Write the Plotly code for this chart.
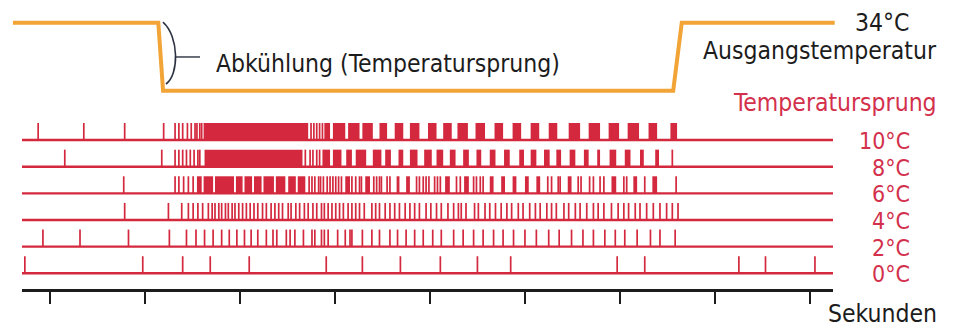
import plotly.graph_objects as go

# ---------------- data (time in seconds, one tick = 1 s) ----------------
TICK_SECONDS = [0, 1, 2, 3, 4, 5, 6, 7, 8]
RECORDING = [-0.29, 8.24]                      # start / end of each trace

# bath temperature (orange line)
TEMP_TIME = [-0.39, 1.14, 1.19, 6.56, 6.65, 8.26]
TEMP_VALUE = [34, 34, 24, 24, 34, 34]

# temperature jump of each raster row (°C)
JUMPS = [0, 2, 4, 6, 8, 10]
JUMP_LABELS = ["0°C", "2°C", "4°C", "6°C", "8°C", "10°C"]

# single action potentials (s)
SPIKES_0 = [-0.26, 0.98, 1.40, 1.69, 2.10, 2.91, 3.29, 3.69, 4.11, 4.50, 4.85,
            5.97, 6.26, 7.25, 7.53, 8.05]
SPIKES_2 = [-0.07, 0.32, 0.83, 1.26, 1.44, 1.54, 1.63, 1.72, 1.81, 1.89, 1.97,
            2.05, 2.12, 2.19, 2.28, 2.35, 2.39, 2.49, 2.53, 2.58, 2.67, 2.76,
            2.79, 2.86, 2.89, 2.93, 3.03, 3.11, 3.16, 3.18, 3.29, 3.39, 3.47,
            3.58, 3.66, 3.75, 3.84, 3.93, 4.03, 4.12, 4.25, 4.35, 4.46, 4.56,
            4.67, 4.77, 4.88, 5.00, 5.12, 5.25, 5.36, 5.49, 5.61, 5.72, 5.84,
            5.95, 6.05, 6.18, 6.32, 6.42, 6.58]
SPIKES_4 = [0.79, 1.25, 1.39, 1.46, 1.51, 1.56, 1.61, 1.67, 1.71, 1.74, 1.78,
            1.81, 1.85, 1.88, 1.92, 1.95, 1.99, 2.03, 2.07, 2.11, 2.15, 2.19,
            2.24, 2.28, 2.33, 2.37, 2.41, 2.45, 2.51, 2.54, 2.59, 2.63, 2.68,
            2.72, 2.77, 2.81, 2.86, 2.89, 2.93, 2.97, 3.01, 3.05, 3.09, 3.14,
            3.18, 3.22, 3.26, 3.31, 3.39, 3.43, 3.47, 3.53, 3.58, 3.63, 3.68,
            3.74, 3.79, 3.84, 3.89, 3.96, 4.01, 4.07, 4.12, 4.19, 4.25, 4.30,
            4.33, 4.38, 4.47, 4.51, 4.58, 4.63, 4.69, 4.75, 4.81, 4.86, 4.93,
            4.98, 5.05, 5.11, 5.16, 5.23, 5.28, 5.33, 5.41, 5.46, 5.53, 5.58,
            5.65, 5.72, 5.77, 5.83, 5.91, 5.98, 6.04, 6.09, 6.16, 6.21, 6.28,
            6.35, 6.42, 6.49, 6.55, 6.61]
SPIKES_6 = [0.78, 1.32, 1.36, 1.41, 1.46, 1.51, 2.73, 2.76, 2.79, 2.83, 2.85,
            2.88, 2.92, 2.95, 2.98, 3.01, 3.04, 3.07, 3.18, 3.22, 3.26, 3.28,
            3.41, 3.44, 3.47, 3.49, 3.55, 3.58, 3.86, 3.89, 3.93, 3.96, 3.99,
            4.05, 4.08, 4.11, 4.28, 4.32, 4.46, 4.49, 4.53, 4.56, 5.24, 5.28,
            5.35, 5.37, 5.56, 5.59, 5.68, 5.72, 5.79, 5.83, 6.04, 6.07, 6.26,
            6.59]
SPIKES_8 = [0.16, 1.18, 1.32, 1.36, 1.40, 1.44, 1.48, 1.52, 1.56, 1.58, 2.69,
            2.74, 2.77, 2.81, 2.84, 6.55]
SPIKES_10 = [-0.12, 0.36, 0.79, 1.20, 1.32, 1.36, 1.40, 1.45, 1.49, 1.53, 1.55,
             1.58, 1.60, 2.75, 2.78, 2.81, 2.84, 2.87]

# high-frequency bursts (start s, end s)
BURSTS_0 = []
BURSTS_2 = []
BURSTS_4 = []
BURSTS_6 = [(1.55, 1.60), (1.62, 1.72), (1.74, 1.94), (1.96, 2.03), (2.05, 2.13),
            (2.15, 2.23), (2.25, 2.36), (2.38, 2.48), (2.51, 2.59), (2.61, 2.69),
            (3.11, 3.16), (3.32, 3.37), (3.65, 3.68), (3.75, 3.79), (4.16, 4.21),
            (4.36, 4.41), (4.63, 4.67), (4.75, 4.79), (4.87, 4.91), (5.00, 5.04),
            (5.12, 5.16), (5.45, 5.49), (5.91, 5.96), (6.14, 6.18), (6.34, 6.39)]
BURSTS_8 = [(1.63, 2.66), (2.87, 2.95), (2.98, 3.07), (3.12, 3.18), (3.22, 3.33),
            (3.40, 3.49), (3.53, 3.59), (3.67, 3.72), (3.79, 3.87), (3.94, 4.02),
            (4.07, 4.14), (4.21, 4.27), (4.35, 4.41), (4.49, 4.54), (4.63, 4.69),
            (4.78, 4.84), (4.94, 4.99), (5.06, 5.12), (5.20, 5.26), (5.33, 5.38),
            (5.47, 5.53), (5.62, 5.67), (5.76, 5.79), (5.89, 5.96), (6.05, 6.11),
            (6.21, 6.25), (6.37, 6.41)]
BURSTS_10 = [(1.62, 2.72), (2.89, 2.95), (2.98, 3.11), (3.14, 3.26), (3.29, 3.40),
             (3.47, 3.55), (3.63, 3.72), (3.79, 3.89), (3.98, 4.07), (4.14, 4.23),
             (4.29, 4.40), (4.48, 4.58), (4.68, 4.77), (4.87, 4.96), (5.06, 5.15),
             (5.25, 5.34), (5.46, 5.58), (5.67, 5.79), (5.88, 5.99), (6.08, 6.20),
             (6.30, 6.39), (6.53, 6.60)]

SPIKES = [SPIKES_0, SPIKES_2, SPIKES_4, SPIKES_6, SPIKES_8, SPIKES_10]
BURSTS = [BURSTS_0, BURSTS_2, BURSTS_4, BURSTS_6, BURSTS_8, BURSTS_10]

# ---------------- style ----------------
W, H = 956, 328
RED = "#d3283d"
RED_TEXT = "#d3304c"
ORANGE = "#f2a437"
INK = "#1c1c1c"
FONT = "DejaVu Sans Condensed, Liberation Sans Narrow, Arial Narrow, sans-serif"
FS = 24.5
FS_ROW = 23
SPIKE_H = 1.28   # in row units (2 °C per row spacing)

fig = go.Figure()

for jump, spikes, bursts in zip(JUMPS, SPIKES, BURSTS):
    # baseline
    fig.add_trace(go.Scatter(x=RECORDING, y=[jump, jump], mode="lines",
                             line=dict(color=RED, width=2.4),
                             hoverinfo="skip", showlegend=False))
    # single spikes
    xs, ys = [], []
    for t in spikes:
        xs += [t, t, None]
        ys += [jump, jump + SPIKE_H, None]
    fig.add_trace(go.Scatter(x=xs, y=ys, mode="lines",
                             line=dict(color=RED, width=1.7),
                             hoverinfo="skip", showlegend=False))
    # bursts
    if bursts:
        fig.add_trace(go.Bar(orientation="h",
                             y=[jump + SPIKE_H / 2] * len(bursts),
                             base=[b[0] for b in bursts],
                             x=[b[1] - b[0] for b in bursts],
                             width=SPIKE_H, marker=dict(color=RED, line=dict(width=0)),
                             hoverinfo="skip", showlegend=False))

# temperature step
fig.add_trace(go.Scatter(x=TEMP_TIME, y=TEMP_VALUE, mode="lines",
                         line=dict(color=ORANGE, width=4),
                         xaxis="x2", yaxis="y2", hoverinfo="skip", showlegend=False))

# bracket marking the cooling step
fig.add_shape(type="path", xref="x2", yref="y2",
              path="M1.189,34.1 C1.36,32.0 1.36,26.3 1.221,24.99",
              line=dict(color="#2b3140", width=1.6))
fig.add_shape(type="line", xref="x2", yref="y2", x0=1.32, x1=1.579, y0=28.96, y1=28.96,
              line=dict(color="#2b3140", width=1.4))

ann = []
for jump, lab in zip(JUMPS, JUMP_LABELS):
    ann.append(dict(text=lab, x=912 / W, xref="paper", y=jump, yref="y",
                    xanchor="right", yanchor="middle", yshift=-1, showarrow=False,
                    font=dict(family=FONT, size=FS_ROW, color=RED_TEXT)))
ann += [
    dict(text="Temperatursprung", x=939 / W, y=1 - 103 / H, xanchor="right",
         font=dict(family=FONT, size=FS, color=RED_TEXT)),
    dict(text="Ausgangstemperatur", x=939 / W, y=1 - 50 / H, xanchor="right",
         font=dict(family=FONT, size=FS, color=INK)),
    dict(text="34°C", x=911 / W, y=1 - 23 / H, xanchor="right",
         font=dict(family=FONT, size=FS, color=INK)),
    dict(text="Abkühlung (Temperatursprung)", x=214 / W, y=1 - 63 / H, xanchor="left",
         font=dict(family=FONT, size=FS, color=INK)),
    dict(text="Sekunden", x=939 / W, y=1 - 313 / H, xanchor="right",
         font=dict(family=FONT, size=FS, color=INK)),
]
for a in ann[len(JUMPS):]:
    a.update(xref="paper", yref="paper", yanchor="middle", showarrow=False)

fig.update_layout(
    width=W, height=H, autosize=False,
    margin=dict(l=0, r=0, t=0, b=0),
    paper_bgcolor="white", plot_bgcolor="rgba(0,0,0,0)",
    barmode="overlay", showlegend=False,
    xaxis=dict(domain=[22 / W, 833 / W], range=RECORDING, anchor="free",
               position=(H - 290) / H, showline=True, linecolor=INK, linewidth=3,
               ticks="outside", ticklen=12, tickwidth=1.5, tickcolor=INK,
               tickvals=TICK_SECONDS, showticklabels=False, showgrid=False,
               zeroline=False, fixedrange=True),
    yaxis=dict(domain=[0, 1], range=[-4.105, 20.51], visible=False, fixedrange=True),
    xaxis2=dict(domain=[0, 1], range=[-0.5263, 9.5368], visible=False, anchor="y2"),
    yaxis2=dict(domain=[0, 1], range=[-10.9, 37.34], visible=False, anchor="x2"),
    annotations=ann,
)

fig.write_html("out.html", config={"displayModeBar": False},
               post_script="document.body.style.margin='0';document.body.style.padding='0';")
